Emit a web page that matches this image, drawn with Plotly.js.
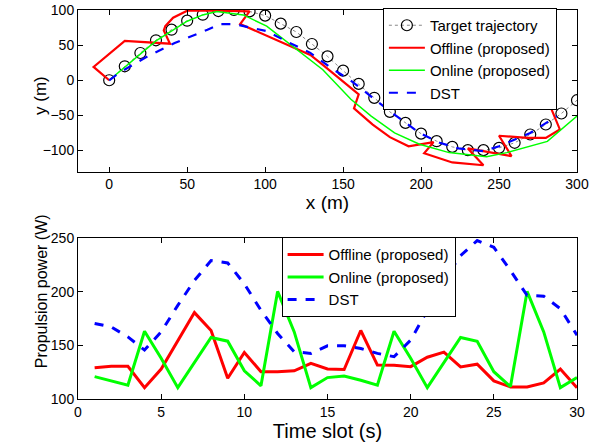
<!DOCTYPE html>
<html>
<head>
<meta charset="utf-8">
<script src="https://cdn.plot.ly/plotly-3.0.1.min.js"></script>
<style>html,body{margin:0;padding:0;background:#fff;}#chart{width:600px;height:448px;}</style>
</head>
<body>
<div id="chart"></div>
<script>
// ---- Top panel: trajectories ----
const targetX = [0,10,20,30,40,50,60,70,80,90,100,110,120,130,140,150,160,170,180,190,200,210,220,230,240,250,260,270,280,290,300];
const targetY = [0,19.9,38.8,56.9,72,84.8,93.3,98.5,100,98,92,80.6,68.7,51.6,34,13.7,-5.2,-25,-45,-60.7,-76,-86.7,-94.8,-99.5,-99.5,-96.2,-89,-77.2,-63,-47.3,-28.4];

const offlineX = [0,-10,10,39,35,36,41,50,70,90,84,116,129,138,160,157,169,180,192,208,202,220,240,230,258,250,268,280,289,283];
const offlineY = [0,19,56,52,71,77,89,99,99,98,80,48,36,20,-20,-40,-63,-81,-94,-88,-104,-117,-121,-97,-108,-79,-82,-82,-70,-38];

const onlineX = [0,10,20,30,50,60,69,86,101,119,137,155,168,183,199,218,242,255,281,300];
const onlineY = [0,19,38,56,84,93,98,93,77,46,15,-27,-51,-75,-91,-103,-109,-103,-87,-51];

const dstX = [0,6,23,42,63,71,80,84,101,114,129,144,154,161,180,199,212,224,240,250,270,280,287];
const dstY = [0,10,32,53,72,80,80,78,70,55,39,15,1,-11,-44,-75,-89,-97,-101,-94,-75,-61,-51];

// ---- Bottom panel: propulsion power ----
const timeSlots = [1,2,3,4,5,6,7,8,9,10,11,12,13,14,15,16,17,18,19,20,21,22,23,24,25,26,27,28,29,30];
const offlinePower = [129.2,130.5,130.5,110.6,128,154,180.7,164,119.4,143.5,125.5,125.5,126.3,133.3,128,127.5,164,131.7,131.5,130.2,139,143.8,130,132.5,116.9,111.3,111.3,115,128,110.6];
const onlinePower = [120.9,117,112.9,163.3,138,110.6,134,157.5,154,126.3,112.3,200.5,162.7,110.6,120,121.5,117.5,113,163.3,138,110.6,134,157.5,154,125.5,111.6,200.5,162.7,110.6,120];
const dstPower = [170.5,167.3,158,145.7,162.7,187.5,210.7,229.3,227.1,207.6,182.8,161.2,144.1,142.6,149.7,149.7,147.2,142.6,139.5,155,182.8,210.7,234,248,241.7,220,196.8,196,184.4,159.6];

const xTicksTop = [0,50,100,150,200,250,300];
const yTicksTop = [-100,-50,0,50,100];
const xTicksBot = [0,5,10,15,20,25,30];
const yTicksBot = [100,150,200,250];

const RED = '#ff0000', GREEN = '#00ff00', BLUE = '#0000ff';

const traces = [
  {x: targetX, y: targetY, name: 'Target trajectory', mode: 'lines+markers',
   line: {color: '#888888', width: 1, dash: 'dot'},
   marker: {symbol: 'circle-open', size: 11, color: '#000', line: {width: 1.2, color: '#000'}},
   xaxis: 'x', yaxis: 'y', legend: 'legend'},
  {x: offlineX, y: offlineY, name: 'Offline (proposed)', mode: 'lines',
   line: {color: RED, width: 2.2}, xaxis: 'x', yaxis: 'y', legend: 'legend'},
  {x: onlineX, y: onlineY, name: 'Online (proposed)', mode: 'lines',
   line: {color: GREEN, width: 1.5}, xaxis: 'x', yaxis: 'y', legend: 'legend'},
  {x: dstX, y: dstY, name: 'DST', mode: 'lines',
   line: {color: BLUE, width: 2.2, dash: 'dash'}, xaxis: 'x', yaxis: 'y', legend: 'legend'},

  {x: timeSlots, y: offlinePower, name: 'Offline (proposed)', mode: 'lines',
   line: {color: RED, width: 3}, xaxis: 'x2', yaxis: 'y2', legend: 'legend2'},
  {x: timeSlots, y: onlinePower, name: 'Online (proposed)', mode: 'lines',
   line: {color: GREEN, width: 3}, xaxis: 'x2', yaxis: 'y2', legend: 'legend2'},
  {x: timeSlots, y: dstPower, name: 'DST', mode: 'lines',
   line: {color: BLUE, width: 3, dash: 'dash'}, xaxis: 'x2', yaxis: 'y2', legend: 'legend2'}
];

const axBase = {
  showgrid: false, zeroline: false, showline: true, mirror: 'ticks',
  linecolor: '#000', linewidth: 1, ticks: 'inside', ticklen: 5, tickcolor: '#000',
  tickfont: {size: 14, color: '#000'}, automargin: false
};

const layout = {
  width: 600, height: 448,
  paper_bgcolor: '#fff', plot_bgcolor: '#fff',
  font: {family: 'Liberation Sans, Arial, Helvetica, sans-serif', color: '#000'},
  margin: {l: 78, r: 23, t: 9, b: 49},
  showlegend: true,
  xaxis: Object.assign({}, axBase, {domain: [0,1], anchor: 'y', range: [-20,300], tickvals: xTicksTop,
    title: {text: 'x (m)', font: {size: 19}, standoff: 3}}),
  yaxis: Object.assign({}, axBase, {domain: [0.5846,1], anchor: 'x', range: [-130,100], tickvals: yTicksTop}),
  xaxis2: Object.assign({}, axBase, {domain: [0,1], anchor: 'y2', range: [0,30], tickvals: xTicksBot,
    title: {text: 'Time slot (s)', font: {size: 20}, standoff: 3}}),
  yaxis2: Object.assign({}, axBase, {domain: [0,0.4128], anchor: 'x2', range: [100,250], tickvals: yTicksBot}),
  annotations: [
    {text: 'y (m)', xref: 'paper', yref: 'paper', x: -0.0741, y: 0.779, xanchor: 'center', yanchor: 'middle',
     textangle: -90, showarrow: false, font: {size: 17}},
    {text: 'Propulsion power (W)', xref: 'paper', yref: 'paper', x: -0.0741, y: 0.277, xanchor: 'center', yanchor: 'middle',
     textangle: -90, showarrow: false, font: {size: 16}}
  ],
  legend: {x: 0.611, y: 1.0026, xanchor: 'left', yanchor: 'top', bgcolor: '#fff',
    bordercolor: '#000', borderwidth: 1, font: {size: 15}, tracegroupgap: 0, itemwidth: 36},
  legend2: {x: 0.408, y: 0.4146, xanchor: 'left', yanchor: 'top', bgcolor: '#fff',
    bordercolor: '#000', borderwidth: 1, font: {size: 15}, tracegroupgap: 0, itemwidth: 36}
};

Plotly.newPlot('chart', traces, layout, {staticPlot: true, displayModeBar: false});
</script>
</body>
</html>
